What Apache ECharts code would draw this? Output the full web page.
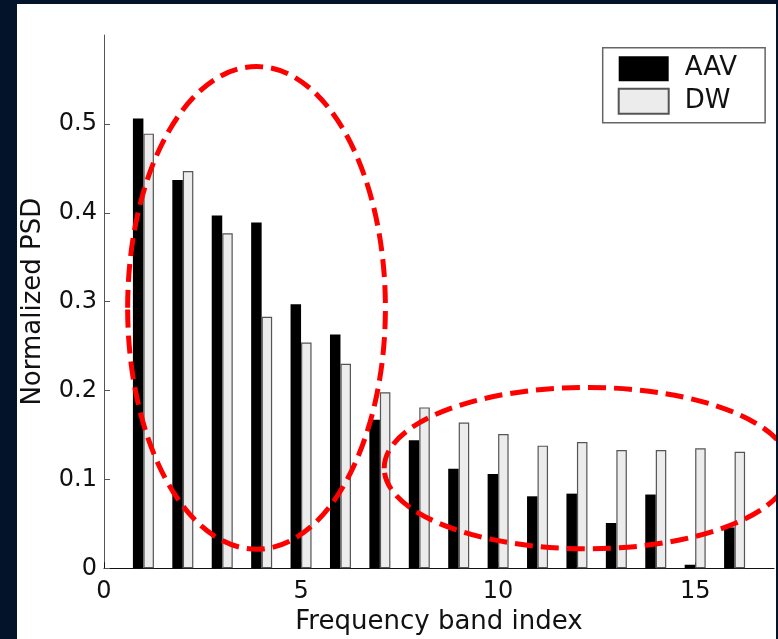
<!DOCTYPE html>
<html>
<head>
<meta charset="UTF-8">
<title>Normalized PSD</title>
<script src="https://cdn.jsdelivr.net/npm/echarts@6/dist/echarts.min.js"></script>
<style>
html, body { margin: 0; padding: 0; width: 778px; height: 639px; background: #02132a; overflow: hidden; }
#chart { position: absolute; left: 17px; top: 4px; width: 759px; height: 635px; background: #fff; }
</style>
</head>
<body>
<div id="chart"></div>
<script>
// frequency bands and normalized PSD per band
var bands = [1, 2, 3, 4, 5, 6, 7, 8, 9, 10, 11, 12, 13, 14, 15, 16];
var aav = [0.506, 0.437, 0.397, 0.389, 0.297, 0.263, 0.167, 0.144, 0.112, 0.106, 0.081, 0.084, 0.051, 0.083, 0.004, 0.046];
var dw  = [0.489, 0.447, 0.377, 0.283, 0.254, 0.230, 0.198, 0.181, 0.164, 0.151, 0.138, 0.142, 0.133, 0.133, 0.135, 0.131];
var xTicks = [0, 5, 10, 15];
var yTicks = [0, 0.1, 0.2, 0.3, 0.4, 0.5];
// red dashed highlight rings, in data units: [cx, cy, rx, ry]
var leftRing = [3.87, 0.293, 3.27, 0.2715];
var rightRing = [12.26, 0.1127, 5.15, 0.0908];

var font = 'DejaVu Sans';
var chart = echarts.init(document.getElementById('chart'));

function pairs(vals) {
  return bands.map(function (b, i) { return [b, vals[i]]; });
}

var option = {
  animation: false,
  textStyle: { fontFamily: font, color: '#111' },
  grid: { left: 87, right: 2, top: 31, bottom: 70.7, outerBoundsMode: 'none', containLabel: false },
  legend: {
    orient: 'vertical',
    left: 585.7,
    top: 43.7,
    padding: [8, 28, 8, 15],
    itemWidth: 50,
    itemHeight: 25,
    itemGap: 6,
    icon: 'rect',
    borderColor: '#666',
    borderWidth: 1.5,
    textStyle: { fontFamily: font, fontSize: 26, color: '#111', padding: [0, 0, 0, 11] },
    data: ['AAV', 'DW']
  },
  xAxis: {
    type: 'value',
    min: 0,
    max: 17,
    interval: 5,
    name: 'Frequency band index',
    nameLocation: 'middle',
    nameGap: 41,
    nameTextStyle: { fontFamily: font, fontSize: 26, color: '#111' },
    axisLine: { lineStyle: { color: '#111', width: 1 } },
    axisTick: { inside: true, length: 6, customValues: xTicks, lineStyle: { color: '#111' } },
    axisLabel: {
      fontFamily: font, fontSize: 24, color: '#111', margin: 11,
      customValues: xTicks,
      formatter: function (v) { return v > 15 ? '' : String(v); }
    },
    splitLine: { show: false }
  },
  yAxis: {
    type: 'value',
    min: 0,
    max: 0.6,
    interval: 0.1,
    name: 'Normalized PSD',
    nameLocation: 'middle',
    nameGap: 58,
    nameTextStyle: { fontFamily: font, fontSize: 26, color: '#111' },
    axisLine: { show: true, lineStyle: { color: '#555', width: 1 } },
    axisTick: { show: true, inside: true, length: 6, customValues: yTicks, lineStyle: { color: '#555' } },
    axisLabel: {
      fontFamily: font, fontSize: 24, color: '#111', margin: 7,
      customValues: yTicks,
      formatter: function (v) { return v > 0.55 ? '' : String(Math.round(v * 10) / 10); }
    },
    splitLine: { show: false }
  },
  series: [
    {
      name: 'AAV',
      type: 'bar',
      data: pairs(aav),
      barWidth: 10.5,
      barGap: '0%',
      itemStyle: { color: '#000', borderColor: '#000', borderWidth: 0 }
    },
    {
      name: 'DW',
      type: 'bar',
      data: pairs(dw),
      barWidth: 10.5,
      barGap: '0%',
      itemStyle: { color: '#ececec', borderColor: '#555', borderWidth: 1.2 }
    }
  ]
};
chart.setOption(option);

function ring(r) {
  var c = chart.convertToPixel({ gridIndex: 0 }, [r[0], r[1]]);
  var e = chart.convertToPixel({ gridIndex: 0 }, [r[0] + r[2], r[1] + r[3]]);
  return {
    type: 'ellipse',
    z: 100,
    silent: true,
    shape: { cx: c[0], cy: c[1], rx: e[0] - c[0], ry: c[1] - e[1] },
    style: { fill: 'transparent', stroke: '#ff0000', lineWidth: 5, lineDash: [18, 8] }
  };
}
chart.setOption({ graphic: [ring(leftRing), ring(rightRing)] });
</script>
</body>
</html>
